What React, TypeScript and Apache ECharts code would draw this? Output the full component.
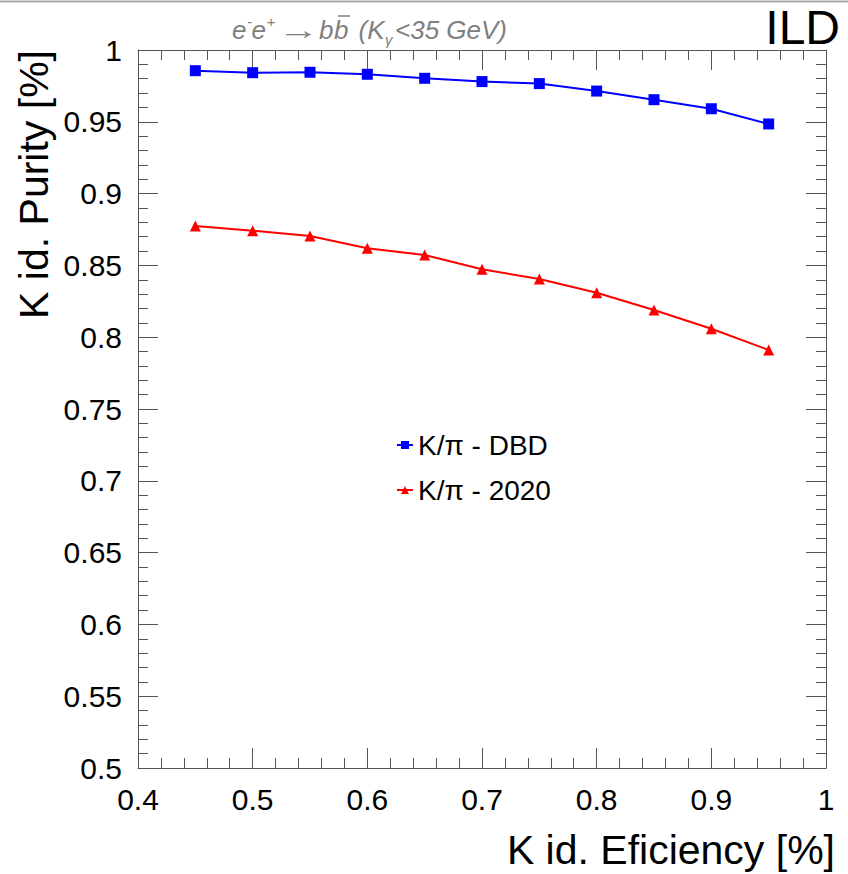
import React, { useEffect, useRef } from 'react';
import * as echarts from 'echarts';

const efficiency = [0.45, 0.5, 0.55, 0.6, 0.65, 0.7, 0.75, 0.8, 0.85, 0.9, 0.95];
const purityDBD = [0.9856, 0.9842, 0.9845, 0.9831, 0.9803, 0.978, 0.9766, 0.9714, 0.9654, 0.9591, 0.9485];
const purity2020 = [0.8774, 0.8742, 0.8705, 0.8619, 0.8572, 0.8473, 0.8405, 0.831, 0.8189, 0.8059, 0.7911];
const seriesNames = ['K/π - DBD', 'K/π - 2020'];
const xTitle = 'K id. Eficiency [%]';
const yTitle = 'K id. Purity [%]';
const logoText = 'ILD';

const FONT = '"Liberation Sans", Arial, Helvetica, sans-serif';
const AX = '#555';
const GRAY = '#808080';

function fmt(v: number) {
  return String(Number(v.toFixed(2)));
}

export default function App() {
  const ref = useRef<HTMLDivElement>(null);
  useEffect(() => {
    if (!ref.current) return;
    const chart = echarts.init(ref.current, undefined, { renderer: 'svg' });
    const axisCommon = {
      axisLine: { show: true, onZero: false, lineStyle: { color: AX, width: 1 } },
      axisTick: { show: true, inside: true, length: 20, lineStyle: { color: AX, width: 1 } },
      minorTick: { show: true, splitNumber: 5, length: 10, lineStyle: { color: AX, width: 1 } },
      splitLine: { show: false },
      minorSplitLine: { show: false },
    };
    const xBase = { type: 'value', min: 0.4, max: 1, interval: 0.1, ...axisCommon };
    const yBase = { type: 'value', min: 0.5, max: 1, interval: 0.05, ...axisCommon };
    const X0 = 232;
    const sub = (text: string, dx: number, y: number, size: number, extra: any = {}) => ({
      type: 'text',
      x: X0 + dx,
      y,
      style: {
        text,
        fontSize: size,
        fontStyle: 'italic',
        fontFamily: FONT,
        fill: GRAY,
        align: 'left',
        verticalAlign: 'middle',
      },
      ...extra,
    });
    const option: any = {
      animation: false,
      backgroundColor: '#fff',
      grid: { left: 138, right: 22, top: 50, bottom: 106, containLabel: false },
      xAxis: [
        {
          ...xBase,
          position: 'bottom',
          axisLabel: { show: true, fontSize: 30, color: '#000', fontFamily: FONT, margin: 16, formatter: (v: number) => fmt(v) },
        },
        { ...xBase, position: 'top', axisLabel: { show: false } },
      ],
      yAxis: [
        {
          ...yBase,
          position: 'left',
          axisLabel: { show: true, fontSize: 30, color: '#000', fontFamily: FONT, margin: 16, formatter: (v: number) => fmt(v) },
        },
        { ...yBase, position: 'right', axisLabel: { show: false } },
      ],
      legend: {
        orient: 'vertical',
        left: 391,
        top: 426,
        itemWidth: 16,
        itemHeight: 10,
        itemGap: 17,
        textStyle: { fontSize: 28, color: '#000', fontFamily: FONT },
        data: seriesNames,
      },
      series: [
        {
          type: 'line',
          name: seriesNames[0],
          xAxisIndex: 0,
          yAxisIndex: 0,
          data: efficiency.map((x, i) => [x, purityDBD[i]]),
          symbol: 'rect',
          symbolSize: 11,
          lineStyle: { color: '#0000ff', width: 2 },
          itemStyle: { color: '#0000ff' },
        },
        {
          type: 'line',
          name: seriesNames[1],
          xAxisIndex: 0,
          yAxisIndex: 0,
          data: efficiency.map((x, i) => [x, purity2020[i]]),
          symbol: 'triangle',
          symbolSize: 11,
          lineStyle: { color: '#ff0000', width: 2 },
          itemStyle: { color: '#ff0000' },
        },
      ],
      graphic: [
        { type: 'line', shape: { x1: 0, y1: 1.5, x2: 848, y2: 1.5 }, style: { stroke: '#aaa', lineWidth: 2 } },
        {
          type: 'text',
          x: 840,
          y: 27,
          style: { text: logoText, fontSize: 48, fontFamily: FONT, fill: '#000', align: 'right', verticalAlign: 'middle' },
        },
        sub('e', 0, 30, 26),
        sub('-', 15, 21, 15),
        sub('e', 19.5, 30, 26),
        sub('+', 34.5, 21, 15),
        sub('→', 46, 30, 26, { scaleX: 1.6 }),
        sub('b', 87, 30, 26),
        sub('b', 102, 30, 26),
        { type: 'line', shape: { x1: X0 + 106, y1: 16, x2: X0 + 118, y2: 16 }, style: { stroke: GRAY, lineWidth: 1.5 } },
        sub('(K', 126.5, 30, 26),
        sub('γ', 153, 39, 15),
        sub('<35 GeV)', 163, 30, 26),
        {
          type: 'text',
          x: 835,
          y: 850,
          style: { text: xTitle, fontSize: 41, fontFamily: FONT, fill: '#000', align: 'right', verticalAlign: 'middle' },
        },
        {
          type: 'text',
          x: 34,
          y: 50,
          rotation: Math.PI / 2,
          style: { text: yTitle, fontSize: 41, fontFamily: FONT, fill: '#000', align: 'right', verticalAlign: 'middle' },
        },
      ],
    };
    chart.setOption(option);
    return () => chart.dispose();
  }, []);
  return (
    <div
      ref={ref}
      style={{ position: 'fixed', left: 0, top: 0, width: 848, height: 874, background: '#fff' }}
    />
  );
}
